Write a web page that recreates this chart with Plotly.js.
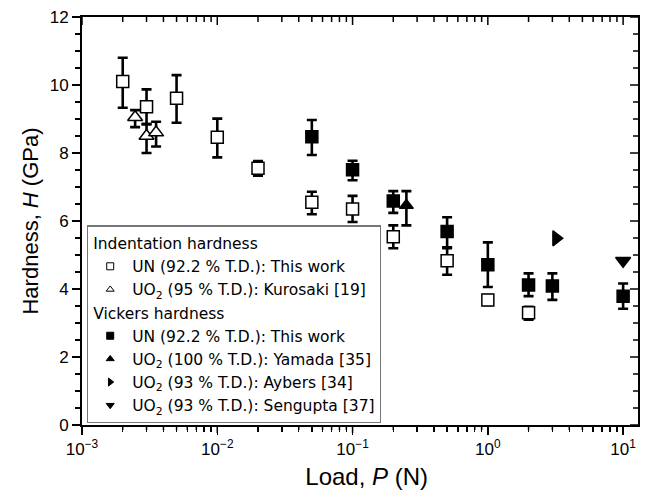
<!DOCTYPE html>
<html><head><meta charset="utf-8">
<script src="https://cdn.plot.ly/plotly-3.0.1.min.js"></script>
<style>body{margin:0;background:#fff}</style>
</head><body><div id="chart" style="width:649px;height:495px"></div>
<script>
// Indentation hardness, UN (92.2 % T.D.), this work
const indUN_P  = [0.002, 0.003, 0.005, 0.01, 0.02, 0.05, 0.1, 0.2, 0.5, 1, 2];
const indUN_H  = [10.1, 9.36, 9.61, 8.46, 7.55, 6.55, 6.35, 5.54, 4.83, 3.68, 3.3];
const indUN_hi = [10.8, 9.87, 10.29, 9.01, 7.76, 6.86, 6.74, 5.87, 5.2, 3.82, 3.48];
const indUN_lo = [9.33, 8.85, 8.89, 7.87, 7.33, 6.2, 5.97, 5.2, 4.42, 3.53, 3.1];
// Indentation hardness, UO2 (95 % T.D.), Kurosaki
const indUO2_P  = [0.00247, 0.003, 0.00353];
const indUO2_H  = [9.05, 8.5, 8.6];
const indUO2_hi = [9.26, 8.85, 8.92];
const indUO2_lo = [8.76, 8.0, 8.19];
// Vickers hardness, UN (92.2 % T.D.), this work
const vickUN_P  = [0.05, 0.1, 0.2, 0.5, 1, 2, 3, 10];
const vickUN_H  = [8.48, 7.51, 6.59, 5.69, 4.71, 4.12, 4.09, 3.79];
const vickUN_hi = [8.97, 7.77, 6.88, 6.11, 5.37, 4.46, 4.46, 4.16];
const vickUN_lo = [7.94, 7.2, 6.24, 5.23, 4.06, 3.79, 3.68, 3.42];
// Vickers hardness, UO2 literature
const yamada_P = [0.25], yamada_H = [6.46], yamada_hi = [6.88], yamada_lo = [5.87];
const aybers_P = [3.2], aybers_H = [5.49];
const sengupta_P = [10], sengupta_H = [4.83];

// tick positions
const xTickVals = [0.001, 0.01, 0.1, 1, 10];
const xTickText = ['10<sup>−3</sup>', '10<sup>−2</sup>', '10<sup>−1</sup>', '10<sup>0</sup>', '10<sup>1</sup>'];
const decades = [0.001, 0.01, 0.1, 1, 10];
const mantissas = [2, 3, 4, 5, 6, 7, 8, 9];
const xMinorVals = [];
decades.forEach(d => mantissas.forEach(m => { if (m * d <= 12.9) xMinorVals.push(m * d); }));
const yTickVals = [0, 2, 4, 6, 8, 10, 12];
const yMinorVals = [];
yTickVals.forEach(v => [0.5, 1, 1.5].forEach(o => { if (v + o < 12) yMinorVals.push(v + o); }));

const legendNames = [
  'UN (92.2 % T.D.): This work',
  'UO<sub>2</sub> (95 % T.D.): Kurosaki [19]',
  'UN (92.2 % T.D.): This work',
  'UO<sub>2</sub> (100 % T.D.): Yamada [35]',
  'UO<sub>2</sub> (93 % T.D.): Aybers [34]',
  'UO<sub>2</sub> (93 % T.D.): Sengupta [37]'
];

function err(H, hi, lo) {
  return {type: 'data', symmetric: false,
    array: hi.map((v, i) => v - H[i]),
    arrayminus: lo.map((v, i) => H[i] - v),
    color: '#000', thickness: 2.6, width: 5};
}

const traces = [];
function data(x, y, sym, fill, size, e) {
  const t = {x: x, y: y, type: 'scatter', mode: 'markers', showlegend: false,
    marker: {symbol: sym, size: size, color: fill, line: {color: '#000', width: 1.5}}};
  if (e) t.error_y = e;
  traces.push(t);
}
data(indUN_P, indUN_H, 'square', '#fff', 12, err(indUN_H, indUN_hi, indUN_lo));
data(indUO2_P, indUO2_H, 'triangle-up', '#fff', 13, err(indUO2_H, indUO2_hi, indUO2_lo));
data(vickUN_P, vickUN_H, 'square', '#000', 12, err(vickUN_H, vickUN_hi, vickUN_lo));
data(yamada_P, yamada_H, 'triangle-up', '#000', 12, err(yamada_H, yamada_hi, yamada_lo));
data(aybers_P, aybers_H, 'triangle-right', '#000', 13);
data(sengupta_P, sengupta_H, 'triangle-down', '#000', 13);

// legend entries
const legFont = 'DejaVu Sans, Noto Sans CJK JP, sans-serif';
const legSyms = ['square', 'triangle-up', 'square', 'triangle-up', 'triangle-right', 'triangle-down'];
const legFill = ['#fff', '#fff', '#000', '#000', '#000', '#000'];
const legGroup = ['ind', 'ind', 'vic', 'vic', 'vic', 'vic'];
legendNames.forEach((n, i) => {
  const t = {x: [null], y: [null], type: 'scatter', mode: 'markers', name: n,
    legendgroup: legGroup[i],
    marker: {symbol: legSyms[i], size: 7, color: legFill[i], line: {color: '#000', width: 1}}};
  if (i === 0) t.legendgrouptitle = {text: 'Indentation hardness', font: {family: legFont, size: 15.5, color: '#000'}};
  if (i === 2) t.legendgrouptitle = {text: 'Vickers hardness', font: {family: legFont, size: 15.5, color: '#000'}};
  traces.push(t);
});

// tick marks drawn as shapes through the axes' scales (paper offsets for their length)
const plotW = 649 - 82 - 11, plotH = 495 - 17 - 70;
const tickLine = {color: '#000', width: 1.5};
const shapes = [];
function xTick(v, len, top, out) {
  const d = len / plotH;
  const base = top ? 1 : 0;
  const dir = (top ? -1 : 1) * (out ? -1 : 1);
  shapes.push({type: 'line', xref: 'x', yref: 'paper', x0: v, x1: v, y0: base, y1: base + dir * d, line: tickLine, layer: 'above'});
}
function yTick(v, len) {
  shapes.push({type: 'line', xref: 'paper', yref: 'y', x0: 1, x1: 1 - len / plotW, y0: v, y1: v, line: tickLine, layer: 'above'});
}
xMinorVals.forEach(v => { xTick(v, 5, false, true); xTick(v, 5, true, false); });
xTickVals.forEach(v => { xTick(v, 8, false, true); xTick(v, 8, true, false); });
yTickVals.forEach(v => yTick(v, 8));
yMinorVals.forEach(v => yTick(v, 5));

const tickFont = {family: 'Liberation Sans, Arial, sans-serif', size: 17, color: '#000'};
const layout = {
  width: 649, height: 495,
  margin: {l: 82, r: 11, t: 17, b: 70},
  paper_bgcolor: '#fff', plot_bgcolor: '#fff',
  showlegend: true,
  shapes: shapes,
  xaxis: {type: 'log', range: [-3, 1.11], showgrid: false, zeroline: false,
    showline: true, mirror: true, linecolor: '#000', linewidth: 2,
    tickmode: 'array', tickvals: xTickVals, ticktext: xTickText,
    ticks: 'outside', ticklen: 8, tickwidth: 1.5, tickcolor: '#000',
    minor: {tickmode: 'array', tickvals: xMinorVals, ticks: 'outside', ticklen: 5, tickwidth: 1.5, tickcolor: '#000', showgrid: false},
    tickfont: tickFont,
    title: {text: '&nbsp;&nbsp;Load, <i>P</i>&nbsp;(N)', font: {family: 'Liberation Sans, Arial, sans-serif', size: 24, color: '#000'}, standoff: 10}},
  yaxis: {range: [0, 12], tickmode: 'array', tickvals: yTickVals, showgrid: false, zeroline: false,
    showline: true, mirror: true, linecolor: '#000', linewidth: 2,
    ticks: 'outside', ticklen: 8, tickwidth: 1.5, tickcolor: '#000',
    minor: {dtick: 0.5, ticks: 'outside', ticklen: 5, tickwidth: 1.5, tickcolor: '#000', showgrid: false},
    tickfont: tickFont,
    title: {text: 'Hardness, <i>H</i> (GPa)', font: {family: 'Liberation Sans, Arial, sans-serif', size: 22, color: '#000'}, standoff: 5}},
  legend: {x: 0.009, y: 0.004, xanchor: 'left', yanchor: 'bottom',
    bgcolor: '#fff', bordercolor: '#777', borderwidth: 1.2,
    font: {family: legFont, size: 15.5, color: '#000'},
    traceorder: 'grouped', tracegroupgap: 0, itemwidth: 34}
};

Plotly.newPlot('chart', traces, layout, {displayModeBar: false, staticPlot: true});
</script>
</body></html>
